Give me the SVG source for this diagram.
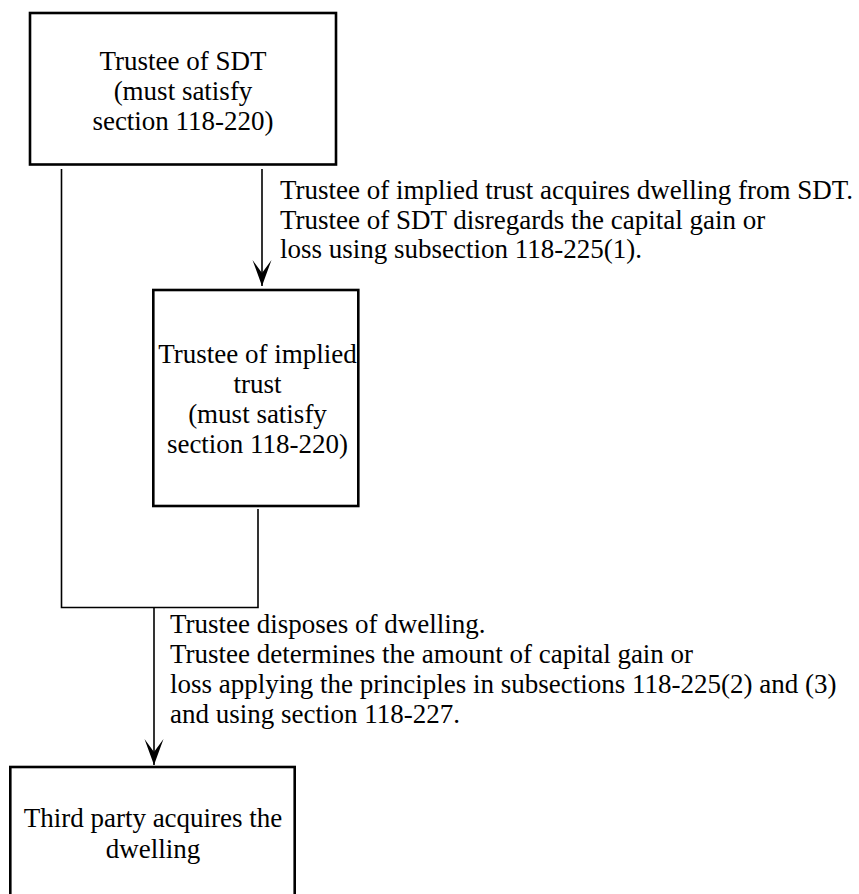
<svg xmlns="http://www.w3.org/2000/svg" width="859" height="894" viewBox="0 0 859 894">
<style>
  .box { fill: #ffffff; stroke: #000000; stroke-width: 2.6; }
  .t { font-family: "Liberation Serif", "Times New Roman", serif; font-size: 27px; fill: #000000; }
  .c { text-anchor: middle; }
  .line { fill: none; stroke: #000000; stroke-width: 1.6; }
</style>
<defs>
  <marker id="arrow" markerUnits="userSpaceOnUse" markerWidth="30" markerHeight="24" refX="0" refY="0" viewBox="-28 -12 30 24" orient="auto">
    <path d="M0,0 L-26,-9.5 L-13,0 L-26,9.5 z" fill="#000000"/>
  </marker>
</defs>
<rect width="859" height="894" fill="#ffffff"/>
<g id="connectors">
  <path class="line" d="M61.5,169 V607.5 H258 V509"/>
  <path class="line" d="M262,169 V286" marker-end="url(#arrow)"/>
  <path class="line" d="M154,607.5 V765" marker-end="url(#arrow)"/>
</g>
<g id="node-sdt">
  <rect class="box" x="30" y="13" width="306" height="151.5"/>
  <text class="t c" x="183" y="69.5">Trustee of SDT</text>
  <text class="t c" x="183" y="99.5">(must satisfy</text>
  <text class="t c" x="183" y="129.5">section 118-220)</text>
</g>
<g id="node-implied">
  <rect class="box" x="153.3" y="290" width="205" height="216"/>
  <text class="t c" x="257.5" y="363">Trustee of implied</text>
  <text class="t c" x="257.5" y="393">trust</text>
  <text class="t c" x="257.5" y="423">(must satisfy</text>
  <text class="t c" x="257.5" y="453">section 118-220)</text>
</g>
<g id="node-third">
  <rect class="box" x="10.3" y="767" width="284.4" height="130"/>
  <text class="t c" x="153" y="827">Third party acquires the</text>
  <text class="t c" x="153" y="858">dwelling</text>
</g>
<g id="label-1">
  <text class="t" x="280" y="199">Trustee of implied trust acquires dwelling from SDT.</text>
  <text class="t" x="280" y="228.5">Trustee of SDT disregards the capital gain or</text>
  <text class="t" x="280" y="258">loss using subsection 118-225(1).</text>
</g>
<g id="label-2">
  <text class="t" x="170" y="633">Trustee disposes of dwelling.</text>
  <text class="t" x="170" y="663">Trustee determines the amount of capital gain or</text>
  <text class="t" x="170" y="693">loss applying the principles in subsections 118-225(2) and (3)</text>
  <text class="t" x="170" y="723">and using section 118-227.</text>
</g>
</svg>
